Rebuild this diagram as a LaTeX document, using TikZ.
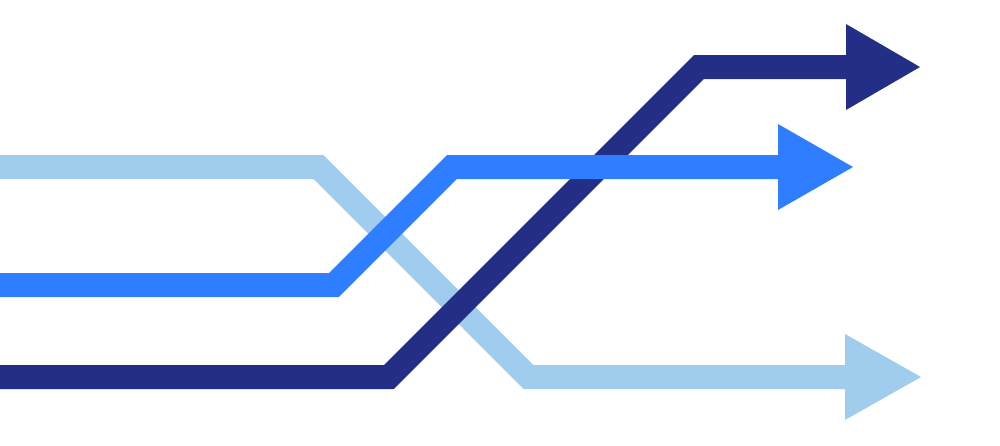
\documentclass[tikz,border=0pt]{standalone}
\definecolor{lightarr}{HTML}{A0CDEE}
\definecolor{midarr}{HTML}{2E7EFF}
\definecolor{navyarr}{HTML}{232E87}
\tikzset{
  shaft/.style={line width=24pt, line join=miter, line cap=butt},
  head/.style={fill=#1, draw=none}
}
\begin{document}
\begin{tikzpicture}[x=1pt,y=-1pt]
\useasboundingbox (0,0) rectangle (1000,445);
% light blue arrow
\coordinate (l0) at (0,167);
\coordinate (l1) at (318.5,167);
\coordinate (l2) at (528.5,377);
\coordinate (l3) at (845,377);
\coordinate (lt) at (921,377);
% navy arrow
\coordinate (n0) at (0,377);
\coordinate (n1) at (389,377);
\coordinate (n2) at (699,67);
\coordinate (n3) at (846,67);
\coordinate (nt) at (920,67);
% medium blue arrow
\coordinate (m0) at (0,285);
\coordinate (m1) at (334,285);
\coordinate (m2) at (452,167);
\coordinate (m3) at (778,167);
\coordinate (mt) at (853,167);

\draw[shaft, draw=lightarr] (l0) -- (l1) -- (l2) -- (l3);
\fill[head=lightarr] (lt) -- ([yshift=-43pt]l3) -- ([yshift=43pt]l3) -- cycle;

\draw[shaft, draw=navyarr] (n0) -- (n1) -- (n2) -- (n3);
\fill[head=navyarr] (nt) -- ([yshift=-43pt]n3) -- ([yshift=43pt]n3) -- cycle;

\draw[shaft, draw=midarr] (m0) -- (m1) -- (m2) -- (m3);
\fill[head=midarr] (mt) -- ([yshift=-43pt]m3) -- ([yshift=43pt]m3) -- cycle;
\end{tikzpicture}
\end{document}
